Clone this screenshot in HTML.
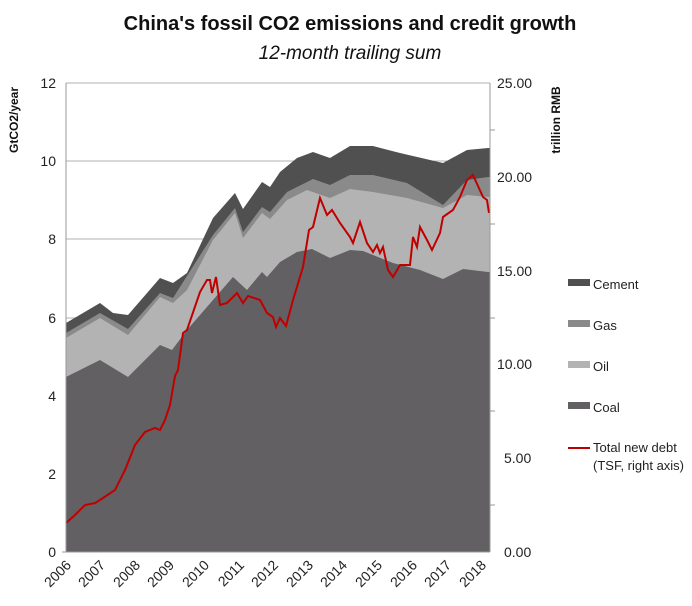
<!DOCTYPE html>
<html><head><style>body{margin:0;background:#fff}svg{display:block}</style></head><body>
<svg width="692" height="606" xmlns="http://www.w3.org/2000/svg" font-family="Liberation Sans, sans-serif">
<text x="350" y="30" text-anchor="middle" font-size="20" font-weight="bold" fill="#111">China's fossil CO2 emissions and credit growth</text>
<text x="350" y="59" text-anchor="middle" font-size="19" font-style="italic" fill="#111">12-month trailing sum</text>
<g stroke="#b0b0b0" stroke-width="1">
<line x1="66" y1="83" x2="490" y2="83"/><line x1="66" y1="161" x2="490" y2="161"/><line x1="66" y1="239" x2="490" y2="239"/><line x1="66" y1="318" x2="490" y2="318"/><line x1="66" y1="396" x2="490" y2="396"/><line x1="66" y1="474" x2="490" y2="474"/>
</g>
<polygon fill="#505050" points="66,323 100,303 113,313 128,315 160,278 173,283 187,273 213,218 235,193 243,209 262,182 270,187 280,172 297,158 313,152 330,158 350,146 373,146 400,153 443,163 467,150 488,148 490,148 490,552 66,552"/>
<polygon fill="#8a8a8a" points="66,333 100,313 128,329 160,293 173,298 213,235 235,208 243,232 262,207 270,212 287,192 313,179 330,185 350,175 373,175 407,183 443,205 467,180 488,177 490,177 490,552 66,552"/>
<polygon fill="#b3b3b3" points="66,338 100,318 128,335 160,297 173,303 187,290 213,240 235,213 243,238 262,213 270,219 287,200 307,190 330,198 350,189 373,192 407,198 443,208 467,195 488,197 490,197 490,552 66,552"/>
<polygon fill="#626062" points="66,377 100,360 128,377 160,345 172,350 187,330 213,300 233,277 247,290 262,272 267,277 280,262 297,252 312,249 330,258 350,250 363,251 393,263 420,270 443,279 463,269 488,272 490,272 490,552 66,552"/>
<polyline fill="none" stroke="#c00000" stroke-width="2" points="66,523 75,515 85,505 95,503 100,500 115,490 125,470 135,445 145,432 155,428 160,430 165,420 170,405 175,376 178,370 183,333 187,330 200,292 207,280 210,280 212,293 216,277 220,305 227,303 237,293 243,303 248,296 260,300 267,313 273,317 276,327 280,318 286,326 293,300 303,267 309,230 313,227 320,198 327,215 332,210 340,223 350,237 353,243 360,222 367,243 373,252 377,245 380,253 383,247 388,270 393,277 400,265 410,265 413,237 417,247 420,227 427,240 432,250 440,233 443,217 453,210 460,197 467,180 473,175 483,197 487,200 489,213"/>
<g stroke="#999" stroke-width="1">
<line x1="66" y1="83" x2="66" y2="552"/><line x1="490" y1="83" x2="490" y2="552"/><line x1="62" y1="552" x2="490" y2="552"/>
<line x1="490" y1="130" x2="495" y2="130"/><line x1="490" y1="224" x2="495" y2="224"/><line x1="490" y1="318" x2="495" y2="318"/><line x1="490" y1="411" x2="495" y2="411"/><line x1="490" y1="505" x2="495" y2="505"/>
</g>
<g font-size="14" fill="#222" text-anchor="end">
<text x="56" y="88">12</text><text x="56" y="166">10</text><text x="56" y="244">8</text><text x="56" y="323">6</text><text x="56" y="401">4</text><text x="56" y="479">2</text><text x="56" y="557">0</text>
</g>
<g font-size="14" fill="#222">
<text x="497" y="88">25.00</text><text x="497" y="182">20.00</text><text x="497" y="276">15.00</text><text x="497" y="369">10.00</text><text x="504" y="463">5.00</text><text x="504" y="557">0.00</text>
</g>
<g font-size="14" fill="#222" text-anchor="end">
<text transform="translate(72,566) rotate(-45)">2006</text><text transform="translate(106,566) rotate(-45)">2007</text><text transform="translate(141,566) rotate(-45)">2008</text><text transform="translate(175,566) rotate(-45)">2009</text><text transform="translate(210,566) rotate(-45)">2010</text><text transform="translate(245,566) rotate(-45)">2011</text><text transform="translate(279,566) rotate(-45)">2012</text><text transform="translate(314,566) rotate(-45)">2013</text><text transform="translate(348,566) rotate(-45)">2014</text><text transform="translate(383,566) rotate(-45)">2015</text><text transform="translate(418,566) rotate(-45)">2016</text><text transform="translate(452,566) rotate(-45)">2017</text><text transform="translate(487,566) rotate(-45)">2018</text>
</g>
<text transform="translate(18,120) rotate(-90)" font-size="12" font-weight="bold" text-anchor="middle" fill="#111">GtCO2/year</text>
<text transform="translate(560,120) rotate(-90)" font-size="12" font-weight="bold" text-anchor="middle" fill="#111">trillion RMB</text>
<rect x="568" y="279" width="22" height="7" fill="#505050"/><text x="593" y="289" font-size="13" fill="#222">Cement</text>
<rect x="568" y="320" width="22" height="7" fill="#8a8a8a"/><text x="593" y="330" font-size="13" fill="#222">Gas</text>
<rect x="568" y="361" width="22" height="7" fill="#b3b3b3"/><text x="593" y="371" font-size="13" fill="#222">Oil</text>
<rect x="568" y="402" width="22" height="7" fill="#626062"/><text x="593" y="412" font-size="13" fill="#222">Coal</text>
<line x1="568" y1="448" x2="590" y2="448" stroke="#c00000" stroke-width="2"/>
<text x="593" y="452" font-size="13" fill="#222">Total new debt</text><text x="593" y="470" font-size="13" fill="#222">(TSF, right axis)</text>
</svg>
</body></html>
